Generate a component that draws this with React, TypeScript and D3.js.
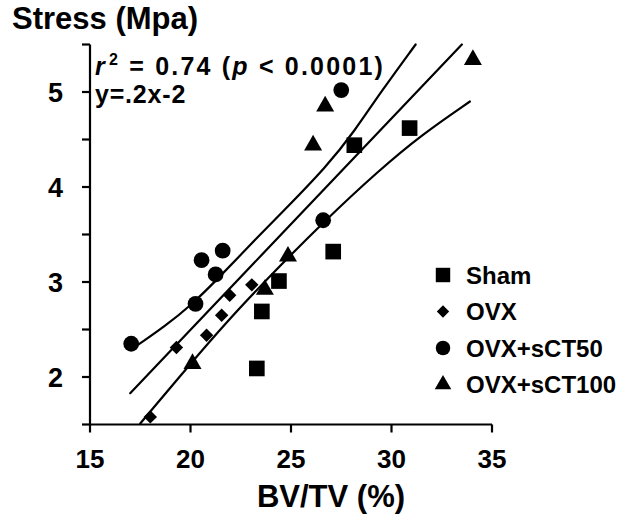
import * as d3 from 'd3';

// [BV/TV %, stress MPa]
const sham: [number, number][] = [
  [23.3, 2.09], [23.55, 2.69], [24.4, 3.01], [27.1, 3.32], [28.15, 4.44], [30.9, 4.62],
];
const ovx: [number, number][] = [
  [18.0, 1.58], [19.3, 2.31], [20.8, 2.44], [21.55, 2.65], [21.95, 2.86], [23.05, 2.97],
];
const sct50: [number, number][] = [
  [17.05, 2.35], [20.25, 2.77], [20.55, 3.23], [21.25, 3.08], [21.6, 3.33], [26.6, 3.65], [27.5, 5.02],
];
const sct100: [number, number][] = [
  [20.1, 2.14], [23.7, 2.92], [24.85, 3.27], [26.1, 4.44], [26.7, 4.85], [34.05, 5.34],
];

// regression line and its confidence curves
const fitLine: [number, number][] = [[17.0, 1.83], [33.5, 5.5]];
const upperBand: [number, number][] = [
  [17.4, 2.34], [18.7, 2.53], [20.0, 2.75], [21.3, 3.02], [23.0, 3.4], [24.5, 3.72],
  [26.8, 4.22], [28.2, 4.6], [29.4, 4.98], [31.2, 5.5],
];
const lowerBand: [number, number][] = [
  [17.5, 1.51], [20.0, 2.14], [21.8, 2.58], [23.8, 3.03], [26.6, 3.63], [29.4, 4.18],
  [31.5, 4.55], [33.9, 4.9],
];

const xTicks = [15, 20, 25, 30, 35];
const yTicks = [1.5, 2, 2.5, 3, 3.5, 4, 4.5, 5, 5.5];
const yLabels = [2, 3, 4, 5];

const FONT = '"Liberation Sans", Arial, Helvetica, sans-serif';

type Group = { name: string; data: [number, number][]; symbol: d3.SymbolType; size: number; rotate: number };

const groups: Group[] = [
  { name: 'Sham', data: sham, symbol: d3.symbolSquare, size: 245, rotate: 0 },
  { name: 'OVX', data: ovx, symbol: d3.symbolSquare, size: 90, rotate: 45 },
  { name: 'OVX+sCT50', data: sct50, symbol: d3.symbolCircle, size: 195, rotate: 0 },
  { name: 'OVX+sCT100', data: sct100, symbol: d3.symbolTriangle, size: 140, rotate: 0 },
];

export default function App() {
  const width = 628;
  const height = 514;
  const x = d3.scaleLinear().domain([15, 35]).range([90, 492]);
  const y = d3.scaleLinear().domain([1.5, 5.5]).range([424.5, 44.5]);

  const straight = d3.line<[number, number]>().x(d => x(d[0])).y(d => y(d[1]));
  const smooth = d3.line<[number, number]>().x(d => x(d[0])).y(d => y(d[1])).curve(d3.curveBasis);

  const y0 = y(1.5);
  return (
    <svg width={width} height={height} style={{ position: 'absolute', left: 0, top: 0, background: '#fff' }}
      fontFamily={FONT} fontWeight="bold">
      {/* axes */}
      <g stroke="#000" strokeWidth={2.2} fill="none">
        <line x1={x(15)} x2={x(35)} y1={y0} y2={y0} />
        <line x1={x(15)} x2={x(15)} y1={y(1.5)} y2={y(5.5)} />
        {xTicks.map(t => <line key={t} x1={x(t)} x2={x(t)} y1={y0} y2={y0 + 8} />)}
        {yTicks.map(t => <line key={t} x1={x(15) - 8} x2={x(15)} y1={y(t)} y2={y(t)} />)}
      </g>
      {xTicks.map(t => (
        <text key={t} x={x(t)} y={468} textAnchor="middle" fontSize={26}>{t}</text>
      ))}
      {yLabels.map(t => (
        <text key={t} x={63} y={y(t) + 10} textAnchor="end" fontSize={27}>{t}</text>
      ))}
      <text x={12} y={29} fontSize={31}>Stress (Mpa)</text>
      <text x={331} y={507} textAnchor="middle" fontSize={31}>BV/TV (%)</text>

      <text x={95} y={75} fontSize={25} letterSpacing={2.2}>
        <tspan fontStyle="italic">r</tspan>
        <tspan fontSize={16} dy={-10} dx={2}>2</tspan>
        <tspan dy={10}>{' = 0.74 ('}</tspan>
        <tspan fontStyle="italic">p</tspan>
        <tspan>{' < 0.0001)'}</tspan>
      </text>
      <text x={95} y={103} fontSize={25} letterSpacing={0.8}>y=.2x-2</text>

      {/* lines */}
      <g stroke="#000" strokeWidth={2.2} fill="none" strokeLinecap="round">
        <path d={straight(fitLine) ?? ''} />
        <path d={smooth(upperBand) ?? ''} />
        <path d={smooth(lowerBand) ?? ''} />
      </g>

      {/* points */}
      {groups.map(g => {
        const p = d3.symbol().type(g.symbol).size(g.size)() ?? '';
        return (
          <g key={g.name} fill="#000">
            {g.data.map((d, i) => (
              <path key={i} d={p} transform={`translate(${x(d[0])},${y(d[1])}) rotate(${g.rotate})`} />
            ))}
          </g>
        );
      })}

      {/* legend */}
      {groups.map((g, i) => {
        const p = d3.symbol().type(g.symbol).size(g.size * 0.85)() ?? '';
        const cy = 275 + i * 36.5;
        return (
          <g key={g.name}>
            <path d={p} fill="#000" transform={`translate(443,${cy}) rotate(${g.rotate})`} />
            <text x={466} y={cy + 8.5} fontSize={24}>{g.name}</text>
          </g>
        );
      })}
    </svg>
  );
}
